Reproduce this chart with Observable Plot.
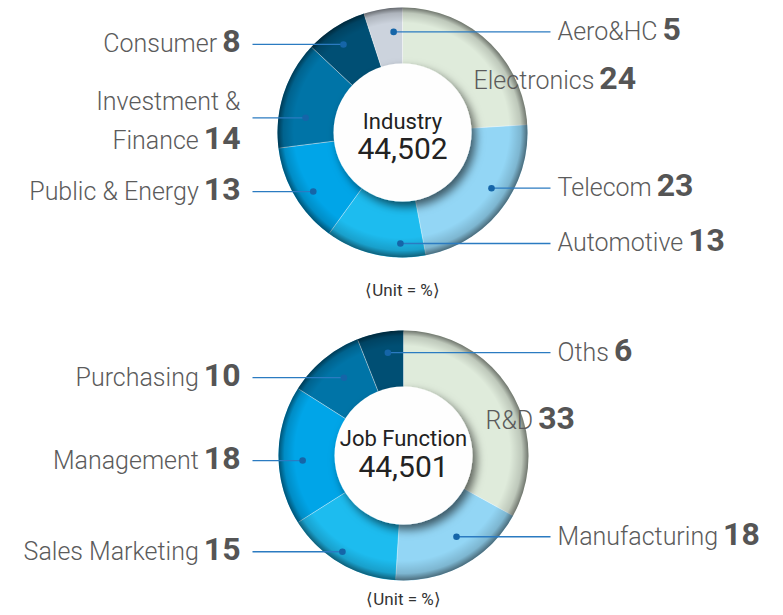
<!DOCTYPE html>
<html>
<head>
<meta charset="utf-8">
<script src="https://cdn.jsdelivr.net/npm/d3@7"></script>
<script src="https://cdn.jsdelivr.net/npm/@observablehq/plot@0.6"></script>
<style>
  html, body { margin: 0; padding: 0; background: #ffffff; }
  #chart svg { display: block; }
</style>
</head>
<body>
<div id="chart"></div>
<script>
// ---------------- DATA ----------------
const industryCategories = ["Electronics", "Telecom", "Automotive", "Public & Energy", "Investment &\nFinance", "Consumer", "Aero&HC"];
const industryValues = [24, 23, 13, 13, 14, 8, 5];
const industryTitle = "Industry";
const industryTotal = "44,502";

const jobCategories = ["R&D", "Manufacturing", "Sales Marketing", "Management", "Purchasing", "Oths"];
const jobValues = [33, 18, 15, 18, 10, 6];
const jobTitle = "Job Function";
const jobTotal = "44,501";

const unitLabel = "\u27E8Unit = %\u27E9";

// ---------------- STYLE / LAYOUT ----------------
const W = 783, H = 615;
const palette = ["#dfebdb", "#93d6f5", "#1dbcef", "#00a5e8", "#0074a7", "#004f74", "#ccd3dd"];
const R_OUT = 125, R_IN = 69;
const LABEL_FS = 25, NUM_FS = 32, FONT = "Roboto";
const TEXT_COLOR = "#5b5b5b", NUM_COLOR = "#555555", LINE_COLOR = "#2b7bc1", DOT_COLOR = "#1565a8";
const RIGHT_LINE_END = 550, RIGHT_TEXT_X = 557, LEFT_LINE_END = 252, LEFT_TEXT_X = 240;

// anchor placement per slice: side + polar position of the leader dot (percent of circle, radius)
const industryAnchors = [
  {side: "inside", dx: 71, dy: -52},
  {side: "right", pct: 33.9, r: 105},
  {side: "right", pct: 50.3, r: 111},
  {side: "left", pct: 65.7, r: 107},
  {side: "left", pct: 77.4, r: 98},
  {side: "left", pct: 90.6, r: 106},
  {side: "right", pct: 98.6, r: 101}
];
const jobAnchors = [
  {side: "inside", dx: 82, dy: -35},
  {side: "right", pct: 40.8, r: 97},
  {side: "left", pct: 59.0, r: 114},
  {side: "left", pct: 74.2, r: 101},
  {side: "left", pct: 89.6, r: 98},
  {side: "right", pct: 97.6, r: 104}
];

const charts = [
  {id: "industry", cats: industryCategories, vals: industryValues, title: industryTitle, total: industryTotal,
   anchors: industryAnchors, cx: 402, cy: 132, titleDy: -11, totalDy: 17, unitY: 290},
  {id: "job", cats: jobCategories, vals: jobValues, title: jobTitle, total: jobTotal,
   anchors: jobAnchors, cx: 403, cy: 455, titleDy: -17, totalDy: 12, unitY: 599}
];

// ---------------- HELPERS ----------------
const ctx = document.createElement("canvas").getContext("2d");
function textWidth(str, size, weight) {
  ctx.font = `${weight} ${size}px ${FONT}`;
  return ctx.measureText(str).width;
}
const polar = (cx, cy, angle, r) => [cx + r * Math.sin(angle), cy - r * Math.cos(angle)];

// ---------------- BUILD MARK DATA ----------------
const arcPts = [], seps = [], dots = [], links = [];
const labelStart = [], labelEnd = [], numStart = [], numEnd = [];
const centers = [], centerTitles = [], centerTotals = [], units = [];

for (const c of charts) {
  const total = d3.sum(c.vals);
  let cum = 0;
  c.vals.forEach((v, i) => {
    const a0 = cum / total * 2 * Math.PI;
    cum += v;
    const a1 = cum / total * 2 * Math.PI;
    const key = c.id + i;
    const color = palette[i];
    const n = Math.max(4, Math.ceil((a1 - a0) / 0.02));
    for (let k = 0; k <= n; k++) {
      const a = a0 + (a1 - a0) * k / n;
      const [x, y] = polar(c.cx, c.cy, a, R_OUT);
      arcPts.push({key, color, x, y});
    }
    for (let k = n; k >= 0; k--) {
      const a = a0 + (a1 - a0) * k / n;
      const [x, y] = polar(c.cx, c.cy, a, R_IN - 2);
      arcPts.push({key, color, x, y});
    }
    const [sx1, sy1] = polar(c.cx, c.cy, a1, R_IN);
    const [sx2, sy2] = polar(c.cx, c.cy, a1, R_OUT - 1);
    seps.push({x1: sx1, y1: sy1, x2: sx2, y2: sy2});

    const anc = c.anchors[i];
    const lines = c.cats[i].split("\n");
    const num = String(v);
    if (anc.side === "inside") {
      const lx = c.cx + anc.dx, ly = c.cy + anc.dy;
      const w = textWidth(lines[0], LABEL_FS, 300);
      labelStart.push({x: lx, y: ly, text: lines[0]});
      numStart.push({x: lx + w + 5, y: ly, text: num});
    } else {
      const [dx, dy] = polar(c.cx, c.cy, anc.pct / 100 * 2 * Math.PI, anc.r);
      dots.push({x: dx, y: dy});
      if (anc.side === "right") {
        links.push({x1: dx, y1: dy, x2: RIGHT_LINE_END, y2: dy});
        const w = textWidth(lines[0], LABEL_FS, 300);
        labelStart.push({x: RIGHT_TEXT_X, y: dy, text: lines[0]});
        numStart.push({x: RIGHT_TEXT_X + w + 5, y: dy, text: num});
      } else {
        links.push({x1: LEFT_LINE_END, y1: dy, x2: dx, y2: dy});
        const nw = textWidth(num, NUM_FS, 700);
        if (lines.length === 1) {
          labelEnd.push({x: LEFT_TEXT_X - nw - 5, y: dy, text: lines[0]});
          numEnd.push({x: LEFT_TEXT_X, y: dy, text: num});
        } else {
          const lastY = dy + 23;
          lines.forEach((ln, j) => {
            const yy = lastY - (lines.length - 1 - j) * 39;
            const isLast = j === lines.length - 1;
            labelEnd.push({x: isLast ? LEFT_TEXT_X - nw - 5 : LEFT_TEXT_X, y: yy, text: ln});
          });
          numEnd.push({x: LEFT_TEXT_X, y: lastY, text: num});
        }
      }
    }
  });
  centers.push({x: c.cx, y: c.cy});
  centerTitles.push({x: c.cx, y: c.cy + c.titleDy, text: c.title});
  centerTotals.push({x: c.cx, y: c.cy + c.totalDy, text: c.total});
  units.push({x: c.cx, y: c.unitY, text: unitLabel});
}

// ---------------- DEFS (gradients / filter) ----------------
function defsMark() {
  const ns = "http://www.w3.org/2000/svg";
  const defs = document.createElementNS(ns, "defs");
  defs.innerHTML = `
    <radialGradient id="rimGrad" cx="0.5" cy="0.5" r="0.5" fx="0.47" fy="0.44">
      <stop offset="0" stop-color="#000" stop-opacity="0"/>
      <stop offset="0.86" stop-color="#000" stop-opacity="0"/>
      <stop offset="0.95" stop-color="#000" stop-opacity="0.15"/>
      <stop offset="1" stop-color="#000" stop-opacity="0.5"/>
    </radialGradient>
    <filter id="innerShadow" x="-40%" y="-40%" width="180%" height="180%">
      <feDropShadow dx="4" dy="5" stdDeviation="5" flood-color="#000" flood-opacity="0.6"/>
    </filter>`;
  return defs;
}

const textCommon = {x: "x", y: "y", text: "text", fontFamily: FONT};
const numDy = (LABEL_FS - NUM_FS) * 0.32;

// ---------------- PLOT ----------------
const plot = Plot.plot({
  width: W,
  height: H,
  margin: 0,
  x: {domain: [0, W], range: [0, W], axis: null},
  y: {domain: [0, H], range: [0, H], axis: null},
  color: {type: "identity"},
  style: {background: "#ffffff", overflow: "visible"},
  marks: [
    defsMark,
    Plot.line(arcPts, {x: "x", y: "y", z: "key", fill: "color", stroke: "none", curve: "linear-closed"}),
    Plot.link(seps, {x1: "x1", y1: "y1", x2: "x2", y2: "y2", stroke: "#ffffff", strokeOpacity: 0.55, strokeWidth: 0.8}),
    Plot.dot(centers, {x: "x", y: "y", r: R_OUT, fill: "url(#rimGrad)", stroke: "none"}),
    Plot.dot(centers, {x: "x", y: "y", r: R_IN, fill: "#fefefe", stroke: "none"}),
    Plot.link(links, {x1: "x1", y1: "y1", x2: "x2", y2: "y2", stroke: LINE_COLOR, strokeWidth: 1.3}),
    Plot.dot(dots, {x: "x", y: "y", r: 3.3, fill: DOT_COLOR, stroke: "none"}),
    Plot.text(labelStart, {...textCommon, textAnchor: "start", fontSize: LABEL_FS, fontWeight: 300, fill: TEXT_COLOR}),
    Plot.text(labelEnd, {...textCommon, textAnchor: "end", fontSize: LABEL_FS, fontWeight: 300, fill: TEXT_COLOR}),
    Plot.text(numStart, {...textCommon, textAnchor: "start", fontSize: NUM_FS, fontWeight: 700, fill: NUM_COLOR, dy: numDy}),
    Plot.text(numEnd, {...textCommon, textAnchor: "end", fontSize: NUM_FS, fontWeight: 700, fill: NUM_COLOR, dy: numDy}),
    Plot.text(centerTitles, {...textCommon, fontSize: 22, fontWeight: 400, fill: "#222222"}),
    Plot.text(centerTotals, {...textCommon, fontSize: 30, fontWeight: 400, fill: "#222222"}),
    Plot.text(units, {...textCommon, fontSize: 17, fill: "#333333"})
  ]
});

// apply the soft drop shadow to the inner white circles (the group filled #fefefe, or circles filled so)
const svgSel = d3.select(plot);
svgSel.selectAll("g").filter(function () { return (this.getAttribute("fill") || "").toLowerCase() === "#fefefe"; })
  .attr("filter", "url(#innerShadow)");
svgSel.selectAll("circle").filter(function () { return (this.getAttribute("fill") || "").toLowerCase() === "#fefefe"; })
  .attr("filter", "url(#innerShadow)");

document.getElementById("chart").appendChild(plot);
</script>
</body>
</html>
